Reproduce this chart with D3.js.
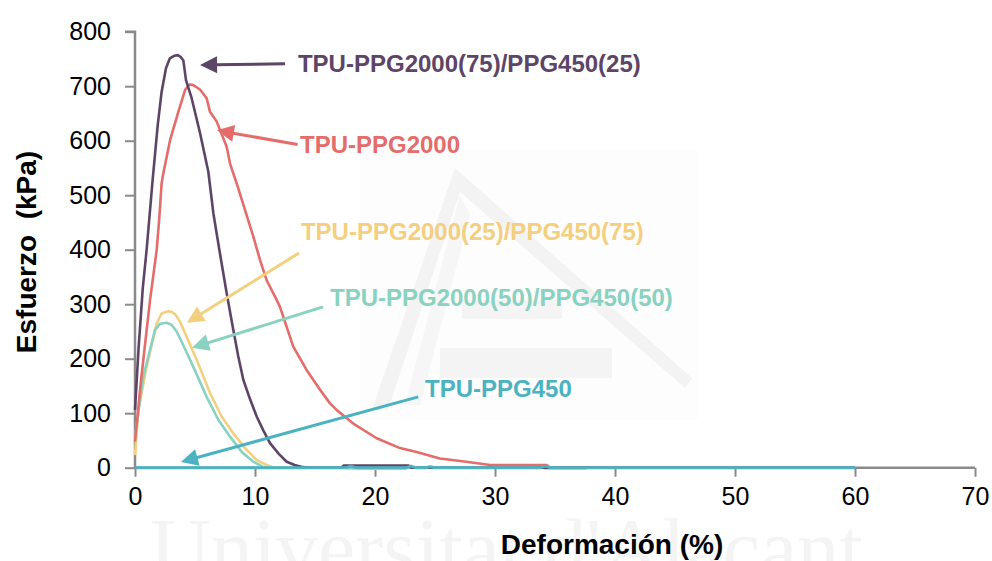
<!DOCTYPE html>
<html>
<head>
<meta charset="utf-8">
<script src="https://cdn.jsdelivr.net/npm/d3@7"></script>
<style>
  html, body { margin: 0; padding: 0; background: #fff; }
  svg { display: block; }
</style>
</head>
<body>
<svg id="chart" width="992" height="561"></svg>
<script>
// Stress–strain curves of TPU blends (strain %, stress kPa)
const xTicks = [0, 10, 20, 30, 40, 50, 60, 70];
const yTicks = [0, 100, 200, 300, 400, 500, 600, 700, 800];

const strain75 = [0, 0.3, 0.65, 0.97, 1.47, 1.9, 2.22, 2.58, 2.9, 3.3, 3.56, 3.8, 4.03, 4.25, 4.72, 5.42, 6.11, 6.53, 7.08, 7.64, 8.19, 8.6, 9.03, 9.6, 10.14, 10.7, 11.25, 12.0, 12.64, 13.3, 14.0, 14.6, 17.2, 17.4, 22.8, 23.0, 60];
const stress75 = [106, 220, 330, 400, 528, 630, 690, 733, 751, 756, 757, 754, 747, 711, 678, 614, 543, 467, 393, 320, 253, 205, 161, 125, 94, 68, 45, 25, 11, 5, 1, 0, 0, 4, 4, 0, 0];

const strain2000 = [0, 0.5, 1.25, 1.81, 2.03, 2.22, 2.36, 2.92, 3.61, 4.17, 4.53, 4.86, 5.42, 5.97, 6.25, 6.81, 7.64, 7.92, 8.19, 8.47, 9.86, 10.42, 10.97, 11.67, 12.08, 13.19, 14.31, 15.42, 16.25, 16.8, 18.19, 20.14, 22.08, 23.47, 25.4, 27.6, 29.6, 34.3, 34.6, 60];
const stress2000 = [48, 160, 307, 400, 460, 522, 540, 601, 653, 693, 703, 702, 694, 678, 653, 635, 589, 558, 540, 522, 424, 381, 344, 314, 295, 222, 179, 143, 118, 106, 81, 54, 36, 29, 17, 11, 5, 5, 0, 0];

const strain25 = [0, 0.28, 0.97, 1.81, 2.22, 2.78, 3.06, 3.4, 3.75, 4.31, 5.14, 6.25, 7.22, 8.19, 9.17, 10.14, 10.97, 11.6, 17.6, 17.8, 22.5, 22.7, 34.0, 34.2, 37.5, 37.7, 60];
const stress25 = [23, 106, 185, 265, 283, 287, 286, 280, 268, 240, 198, 137, 94, 63, 36, 14, 5, 0, 0, -2, -2, 0, 0, -2, -2, 0, 0];

const strain50 = [0, 0.69, 1.67, 2.08, 2.64, 3.06, 3.47, 3.89, 4.86, 5.97, 6.94, 7.92, 8.89, 9.86, 10.7, 11.3, 60];
const stress50 = [57, 167, 253, 264, 266, 262, 250, 231, 185, 130, 88, 57, 29, 11, 1, 0, 0];

const strain450 = [0, 17.6, 18.0, 18.4, 22.6, 23.0, 23.4, 24.2, 24.6, 25.0, 33.8, 34.2, 34.6, 60];
const stress450 = [0, 0, 3, 0, 0, 3, 0, 0, 2, 0, 0, 3, 0, 0];

const seriesNames = [
  "TPU-PPG2000(75)/PPG450(25)",
  "TPU-PPG2000",
  "TPU-PPG2000(25)/PPG450(75)",
  "TPU-PPG2000(50)/PPG450(50)",
  "TPU-PPG450"
];
const seriesColors = ["#5c4566", "#e46c6a", "#f3cf80", "#89d2bf", "#4bb2c1"];

// Callout labels: text anchor and arrow (from -> tip), in data units
const labelAt   = [[13.58, 726], [13.75, 577], [13.83, 418], [16.25, 297], [24.17, 130]];
const arrowFrom = [[12.5, 741], [13.55, 593], [13.67, 394], [15.67, 295], [23.6, 130]];
const arrowTip  = [[5.42, 739], [6.83, 619], [4.33, 266], [4.75, 220], [3.83, 10.5]];

const series = [
  { x: strain75, y: stress75 },
  { x: strain2000, y: stress2000 },
  { x: strain25, y: stress25 },
  { x: strain50, y: stress50 },
  { x: strain450, y: stress450 }
];

const svg = d3.select("#chart");
const x = d3.scaleLinear().domain([0, 70]).range([135, 975]);
const y = d3.scaleLinear().domain([0, 800]).range([467.7, 31.7]);

// University watermark behind the plot (very faint)
const wm = svg.append("g").attr("class", "watermark");
wm.append("rect").attr("x", 360).attr("y", 150).attr("width", 338).attr("height", 270).attr("fill", "#fdfdfd");
wm.append("path")
  .attr("d", "M455,168 L372,410 L388,410 L460,192 L685,388 L692,378 Z")
  .attr("fill", "#f3f3f3");
wm.append("path")
  .attr("d", "M460,195 L405,405 L420,405 L470,215 Z")
  .attr("fill", "#f6f6f6");
wm.append("rect").attr("x", 462).attr("y", 300).attr("width", 100).attr("height", 19).attr("fill", "#f4f4f4");
wm.append("rect").attr("x", 440).attr("y", 348).attr("width", 172).attr("height", 30).attr("fill", "#f4f4f4");
wm.append("text")
  .attr("x", 150).attr("y", 577)
  .attr("font-family", "'Liberation Serif', 'DejaVu Serif', serif")
  .attr("font-size", 84)
  .attr("fill", "#f4f4f4")
  .text("Universitat d'Alacant");

// Axes
const axisColor = "#8a8a8a";
const yAxis = svg.append("g")
  .attr("transform", `translate(${x(0)},0)`)
  .call(d3.axisLeft(y).tickValues(yTicks).tickSize(10).tickPadding(14).tickFormat(d3.format("d")));
const xAxis = svg.append("g")
  .attr("transform", `translate(0,${y(0)})`)
  .call(d3.axisBottom(x).tickValues(xTicks).tickSize(9).tickPadding(11).tickFormat(d3.format("d")));
[xAxis, yAxis].forEach(g => {
  g.select(".domain").attr("stroke", axisColor).attr("stroke-width", 2.5);
  g.selectAll(".tick line").attr("stroke", axisColor).attr("stroke-width", 2);
  g.selectAll(".tick text")
    .attr("fill", "#000")
    .attr("font-family", "'Liberation Sans', Arial, sans-serif")
    .attr("font-size", 25);
});
yAxis.select(".domain").attr("d", `M-10,${y(800)}H0V${y(0)}`);
xAxis.select(".domain").attr("d", `M${x(0)},0H${x(70)}`);

// Curves
const line = d3.line().x(d => x(d[0])).y(d => y(d[1]));
[2, 3, 1, 0, 4].forEach(i => {
  const s = series[i];
  svg.append("path")
    .datum(s.x.map((v, k) => [v, s.y[k]]))
    .attr("fill", "none")
    .attr("stroke", seriesColors[i])
    .attr("stroke-width", i === 4 ? 3 : 2.6)
    .attr("stroke-linejoin", "round")
    .attr("d", line);
});

// Callouts with arrows
seriesNames.forEach((name, i) => {
  const [fx, fy] = [x(arrowFrom[i][0]), y(arrowFrom[i][1])];
  const [tx, ty] = [x(arrowTip[i][0]), y(arrowTip[i][1])];
  const ang = Math.atan2(ty - fy, tx - fx);
  const L = 17, W = 8.5;
  const bx = tx - L * Math.cos(ang), by = ty - L * Math.sin(ang);
  const nx = -Math.sin(ang), ny = Math.cos(ang);
  svg.append("line")
    .attr("x1", fx).attr("y1", fy).attr("x2", bx + 2 * Math.cos(ang)).attr("y2", by + 2 * Math.sin(ang))
    .attr("stroke", seriesColors[i]).attr("stroke-width", 3);
  svg.append("path")
    .attr("d", `M${tx},${ty}L${bx + W * nx},${by + W * ny}L${bx - W * nx},${by - W * ny}Z`)
    .attr("fill", seriesColors[i]);
  svg.append("text")
    .attr("x", x(labelAt[i][0])).attr("y", y(labelAt[i][1]))
    .attr("font-family", "'Liberation Sans', Arial, sans-serif")
    .attr("font-weight", "bold")
    .attr("font-size", 24)
    .attr("fill", seriesColors[i])
    .text(name);
});

// Axis titles
svg.append("text")
  .attr("x", 612).attr("y", 554)
  .attr("text-anchor", "middle")
  .attr("font-family", "'Liberation Sans', Arial, sans-serif")
  .attr("font-weight", "bold")
  .attr("font-size", 28)
  .attr("fill", "#000")
  .text("Deformación (%)");
svg.append("text")
  .attr("transform", "translate(36,252) rotate(-90)")
  .attr("text-anchor", "middle")
  .attr("font-family", "'Liberation Sans', Arial, sans-serif")
  .attr("font-weight", "bold")
  .attr("font-size", 28)
  .attr("fill", "#000")
  .attr("xml:space", "preserve")
  .style("white-space", "pre")
  .text("Esfuerzo  (kPa)");
</script>
</body>
</html>
